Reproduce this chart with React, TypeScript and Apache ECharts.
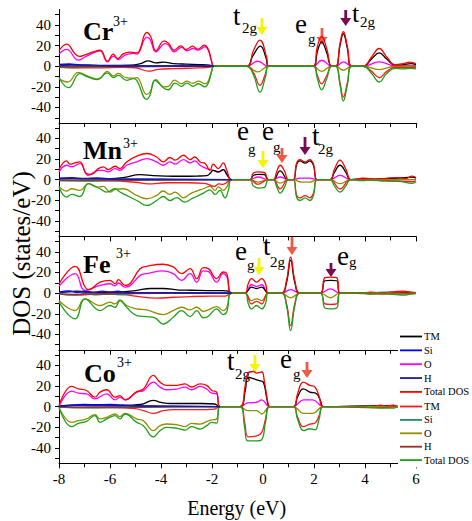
import React, { useEffect, useRef } from "react";
import * as echarts from "echarts";

type P = [number, number][];

const xTicks = { min: -8, max: 6, step: 2 };
const yTickValues = [-50, -40, -30, -20, -10, 0, 10, 20, 30, 40, 50];
const yLabelValues = [-40, -20, 0, 20, 40];
const seriesNames = ["TM", "Si", "O", "H", "Total DOS"];

// ---------- Cr3+ ----------
const crTotUp: P = [[-8,15],[-7.7,21.4],[-7.37,12],[-7.2,9.5],[-6.98,11],[-6.59,14.5],[-6.39,15.5],[-6.1,4.9],[-5.87,11.7],[-5.7,7.4],[-5.48,12],[-5.22,13.6],[-4.95,12.9],[-4.56,32.7],[-4.4,28.5],[-4.2,15],[-3.88,24.6],[-3.7,22],[-3.49,15.5],[-3.22,19.7],[-3.02,16.2],[-2.76,19.4],[-2.56,16.5],[-2.3,20.4],[-2.14,16],[-2.01,4.5],[-1.93,0],[-0.64,0],[-0.38,15],[-0.12,25.4],[0.14,9],[0.22,0],[1.97,0],[2.13,18.9],[2.3,29],[2.5,17],[2.69,0],[2.86,0],[3.02,22],[3.15,33.5],[3.31,19],[3.48,0],[3.93,0],[4.26,9],[4.56,17.2],[4.85,9],[5.18,1.5],[5.5,2.5],[5.76,4],[6,2.5]];
const crTmUp: P = [[-8,1],[-7.6,1.5],[-7,1],[-6,0.8],[-5.2,1],[-4.8,2.5],[-4.5,5.2],[-4.2,3.3],[-3.9,3.9],[-3.5,2.6],[-3,2],[-2.5,1.6],[-2.1,1],[-1.93,0],[-0.64,0],[-0.4,10],[-0.1,19.5],[0.12,8],[0.22,0],[1.97,0],[2.13,14],[2.3,23.7],[2.5,13],[2.69,0],[2.86,0],[3.02,20],[3.15,31.5],[3.31,17],[3.48,0],[3.93,0],[4.26,7],[4.56,13],[4.85,7],[5.18,1],[5.5,1.5],[5.8,2.5],[6,1.5]];
const crOUp: P = [[-8,11.7],[-7.7,16.3],[-7.24,5.9],[-6.92,9.8],[-6.39,15],[-6.1,4.2],[-5.87,9.8],[-5.67,6.5],[-5.41,10.7],[-5.08,12.4],[-4.95,11.7],[-4.56,28],[-4.43,26],[-4.2,14],[-3.84,22],[-3.71,20.5],[-3.49,14],[-3.19,18.2],[-2.99,15],[-2.73,17.2],[-2.54,15.6],[-2.27,18.9],[-2.14,15],[-2.01,4],[-1.93,0],[-0.64,0],[-0.2,4.8],[0.21,0],[1.97,0],[2.3,5.8],[2.69,0],[2.86,0],[3.15,4.2],[3.48,0],[3.93,0],[4.56,4.2],[5.18,0.5],[6,0.5]];
const crSiUp: P = [[-8,1.8],[-7.6,2.3],[-7.2,1.3],[-6.8,1],[-6.2,0.6],[-5,0.4],[-3,0.3],[-1.93,0]];
const crHUp: P = [[-8,0.7],[-7.5,1],[-6.5,0.5],[-4,0.3],[-1.93,0]];
const crTotDn: P = [[-8,-11],[-7.63,-20.8],[-7.18,-7.2],[-6.92,-9.8],[-6.52,-13],[-6.1,-6.5],[-5.87,-11],[-5.67,-8.8],[-5.35,-13.7],[-5.08,-12],[-4.95,-13.7],[-4.56,-32.2],[-4.43,-28],[-4.24,-13.7],[-3.91,-20.8],[-3.71,-22.8],[-3.45,-16.3],[-3.19,-19.5],[-2.99,-16.3],[-2.73,-19.5],[-2.54,-17],[-2.27,-20],[-2.14,-16],[-2.01,-5],[-1.93,0],[-0.64,0],[-0.38,-8],[-0.12,-25],[0.1,-10],[0.22,0],[1.97,0],[2.13,-12],[2.3,-22.8],[2.5,-12],[2.69,0],[2.86,0],[3.02,-18],[3.15,-33.8],[3.31,-18],[3.48,0],[3.93,0],[4.26,-7],[4.56,-15.3],[4.85,-7],[5.18,-2],[5.5,-2.5],[5.8,-2],[6,-2.5]];
const crTmDn: P = [[-8,-0.6],[-7.5,-1.5],[-6.5,-1.6],[-5.5,-1.2],[-5,-1.5],[-4.5,-4.8],[-4.1,-3],[-3.5,-2.3],[-2.5,-1.6],[-2.1,-1],[-1.93,0],[-0.64,0],[-0.38,-6],[-0.12,-18.5],[0.1,-7],[0.22,0],[1.97,0],[2.13,-9],[2.3,-17],[2.5,-9],[2.69,0],[2.86,0],[3.02,-16],[3.15,-30],[3.31,-16],[3.48,0],[3.93,0],[4.26,-5],[4.56,-11],[4.85,-5],[5.18,-1],[5.6,-1.5],[6,-1]];
const crODn: P = [[-8,-12],[-7.66,-15.3],[-7.24,-6],[-6.92,-9],[-6.46,-12.5],[-6.1,-5],[-5.87,-9.5],[-5.67,-7],[-5.38,-11],[-5.08,-11.5],[-4.95,-11],[-4.56,-27.3],[-4.43,-25],[-4.2,-13],[-3.88,-20],[-3.71,-19.5],[-3.47,-13.5],[-3.19,-17],[-2.99,-14.5],[-2.75,-16.5],[-2.54,-14.5],[-2.27,-17],[-2.14,-14],[-2.01,-4],[-1.93,0],[-0.64,0],[-0.2,-5.5],[0.21,0],[1.97,0],[2.3,-4.9],[2.69,0],[2.86,0],[3.15,-3.9],[3.48,0],[3.93,0],[4.56,-3.3],[5.18,0],[6,0]];
const crSiDn: P = [[-8,-1],[-7.5,-1.4],[-6.8,-0.8],[-5,-0.4],[-1.93,0]];
const crHDn: P = [[-8,-0.5],[-6,-0.4],[-1.93,0]];

// ---------- Mn3+ ----------
const mnTotUp: P = [[-8,9.8],[-7.7,18.2],[-7.57,15],[-7.37,16.3],[-7.18,17.2],[-6.92,5.9],[-6.72,5.2],[-6.46,10.7],[-6.26,12.4],[-6.07,9.8],[-5.8,13],[-5.61,10.7],[-5.35,17.2],[-4.95,22.8],[-4.56,25.4],[-4.17,22],[-3.91,17.2],[-3.65,21.5],[-3.45,18.9],[-3.12,23.7],[-2.86,19.5],[-2.67,22],[-2.47,17.2],[-2.27,15.6],[-2.08,9.1],[-1.95,15],[-1.75,10.7],[-1.56,16.3],[-1.42,9.1],[-1.23,0],[-0.51,0],[-0.38,6.5],[-0.18,7.5],[0.05,7],[0.21,0],[0.41,0],[0.54,8],[0.67,14],[0.85,8],[0.99,0],[1.19,0],[1.32,16],[1.45,19.5],[1.65,17.2],[1.84,19.5],[1.98,15],[2.13,0],[2.63,0],[2.8,10],[3.02,18.9],[3.25,10],[3.44,0],[3.6,0],[3.9,1.5],[4.2,1],[4.5,0.5],[4.9,1.5],[5.3,2],[5.6,1],[5.85,3.5],[6,2]];
const mnTmUp: P = [[-8,1],[-7.5,1.2],[-7,0.8],[-6,1],[-5.5,2],[-4.8,4.9],[-4.3,4],[-3.8,3.5],[-3.2,3.3],[-2.6,3.5],[-2.2,4],[-2.08,5.9],[-1.95,9.1],[-1.75,7.5],[-1.56,9.8],[-1.42,5],[-1.23,0],[-0.51,0],[-0.38,4],[-0.18,5.2],[0.05,5],[0.21,0],[0.41,0],[0.67,8.5],[0.99,0],[1.19,0],[1.32,15],[1.45,18.2],[1.65,16],[1.84,18.2],[1.98,14],[2.13,0],[2.63,0],[2.8,7],[3.02,14],[3.25,7],[3.44,0],[3.9,1],[4.2,0.5],[4.8,1],[5.3,1.5],[5.85,2.5],[6,1.5]];
const mnOUp: P = [[-8,7.5],[-7.7,14],[-7.5,12.4],[-7.18,15.6],[-6.85,4.2],[-6.46,9.1],[-6.26,9.1],[-6.07,7.5],[-5.8,10.7],[-5.61,9.1],[-5.35,14],[-4.95,17.2],[-4.56,20.5],[-4.17,17.2],[-3.91,14],[-3.65,17.2],[-3.45,15],[-3.12,19.5],[-2.86,16.3],[-2.67,18.2],[-2.47,14],[-2.21,10.7],[-1.95,9.1],[-1.75,7.5],[-1.56,9.8],[-1.42,5.9],[-1.23,0],[-0.51,0],[-0.2,2.6],[0.21,0],[0.41,0],[0.67,2.6],[0.99,0],[1.19,0],[1.45,1.5],[1.84,1.5],[2.13,0],[2.63,0],[3.02,4.2],[3.44,0],[6,0]];
const mnSiUp: P = [[-8,1.5],[-7.5,2],[-7,1.2],[-6.5,1.6],[-6,1],[-5.5,0.6],[-4,0.4],[-1.23,0]];
const mnHUp: P = [[-8,0.8],[-7,1],[-6,0.6],[-4,0.3],[-1.23,0]];
const mnTotDn: P = [[-8,-7.2],[-7.7,-16.9],[-7.5,-14.3],[-7.18,-16.3],[-6.85,-3.9],[-6.59,-6.5],[-6.39,-8.8],[-6.13,-12],[-5.8,-8.8],[-5.61,-12],[-5.35,-15.3],[-4.95,-20.2],[-4.56,-25],[-4.17,-20.2],[-3.91,-16.3],[-3.65,-20.2],[-3.39,-17.5],[-3.06,-21.8],[-2.8,-18.5],[-2.6,-16.3],[-2.34,-13],[-2.08,-9.8],[-1.88,-14.3],[-1.69,-10.4],[-1.49,-17.6],[-1.36,-10.4],[-1.23,0],[-0.51,0],[-0.38,-6],[-0.18,-8.1],[0.05,-7.5],[0.21,0],[0.41,0],[0.54,-7],[0.67,-13],[0.85,-7],[0.99,0],[1.19,0],[1.32,-17],[1.45,-20.2],[1.65,-17.6],[1.84,-20.2],[1.98,-15],[2.13,0],[2.63,0],[2.8,-6],[3.02,-12],[3.25,-6],[3.44,0],[3.9,-1],[4.2,-0.5],[4.8,-1.5],[5.3,-1.5],[5.85,-3.5],[6,-2]];
const mnTmDn: P = [[-8,-1],[-7,-1],[-6,-1.2],[-5,-2.5],[-4.5,-4],[-3.8,-3],[-3,-3],[-2.3,-3.5],[-1.9,-6.5],[-1.75,-4],[-1.56,-4.5],[-1.23,0],[-0.51,0],[-0.2,-4.5],[0.21,0],[0.41,0],[0.67,-8.8],[0.99,0],[1.19,0],[1.32,-15],[1.45,-17.6],[1.65,-15.5],[1.84,-17.6],[1.98,-13],[2.13,0],[2.63,0],[3.02,-8.8],[3.44,0],[4.5,-0.5],[5.85,-2],[6,-1]];
const mnODn: P = [[-8,-6.5],[-7.7,-11],[-7.5,-8.8],[-7.18,-10.4],[-6.85,-3.9],[-6.46,-7.2],[-6.26,-6.5],[-6,-12],[-5.8,-9.5],[-5.48,-8.8],[-4.95,-15.3],[-4.56,-18.5],[-4.17,-15.3],[-3.91,-11],[-3.65,-14.3],[-3.45,-12],[-3.12,-17.6],[-2.86,-13.7],[-2.6,-11],[-2.34,-8.8],[-2.08,-6.5],[-1.88,-10.4],[-1.75,-7],[-1.56,-10.4],[-1.42,-7],[-1.23,0],[-0.51,0],[-0.2,-2.3],[0.21,0],[0.41,0],[0.67,-3.3],[0.99,0],[1.19,0],[1.5,-2.3],[1.84,-2.3],[2.13,0],[2.63,0],[3.02,-3.9],[3.44,0],[6,0]];
const mnSiDn: P = [[-8,-1],[-7,-1.3],[-6,-0.8],[-4,-0.4],[-1.23,0]];
const mnHDn: P = [[-8,-0.5],[-6,-0.5],[-1.23,0]];

// ---------- Fe3+ ----------
const feTotUp: P = [[-8,9.1],[-7.37,26],[-6.98,5.9],[-6.85,3.3],[-6.39,10.7],[-6,12.4],[-5.8,9.1],[-5.67,13],[-5.41,7.5],[-5.22,9.1],[-4.82,23.7],[-4.56,26],[-3.91,28],[-3.52,25.4],[-3.19,18.9],[-2.86,23.7],[-2.6,14],[-2.34,24.7],[-2.14,23.7],[-1.82,14],[-1.56,20.5],[-1.42,18.9],[-1.23,0],[-0.71,0],[-0.58,9],[-0.45,14],[-0.25,10.7],[-0.05,14],[0.1,9],[0.21,0],[0.73,0],[0.92,12],[1.085,35],[1.25,12],[1.45,0],[2.24,0],[2.43,15],[2.65,15.6],[2.89,15],[3.02,0],[3.9,0],[4.2,1],[4.5,0.5],[4.8,0.3],[5.2,1.5],[5.5,2],[5.8,1],[6,0.5]];
const feTmUp: P = [[-8,0.5],[-7.3,2],[-6.5,0.5],[-5.8,0.8],[-5,2.5],[-4.4,4.5],[-3.9,4.5],[-3.3,3],[-2.8,2.8],[-2.2,2.5],[-1.6,2.5],[-1.35,2],[-1.23,0],[-0.71,0],[-0.45,5.9],[-0.25,4.5],[-0.05,5.9],[0.21,0],[0.73,0],[0.92,10],[1.085,31.9],[1.25,10],[1.45,0],[2.24,0],[2.43,12],[2.65,12.4],[2.89,12],[3.02,0],[4.2,0.5],[5.3,1],[6,0.5]];
const feOUp: P = [[-8,6.5],[-7.37,18.9],[-6.98,2.6],[-6.39,7.5],[-6,9.1],[-5.8,7],[-5.67,9.8],[-5.41,5.9],[-5.22,7],[-4.82,17.2],[-4.56,18.9],[-3.91,21.5],[-3.52,18.9],[-3.19,12.4],[-2.86,18.9],[-2.6,10.7],[-2.34,21.5],[-2.14,20.8],[-1.82,10.7],[-1.56,18.9],[-1.42,16],[-1.23,0],[-0.71,0],[-0.45,8.1],[-0.25,6.5],[-0.05,8.1],[0.21,0],[0.73,0],[1.085,3.3],[1.45,0],[2.24,0],[2.65,4.2],[3.02,0],[6,0]];
const feSiUp: P = [[-8,1],[-7.6,2.2],[-7.3,0.5],[-7,1.8],[-6.6,0.8],[-6.3,2],[-6,1],[-5.7,1.8],[-5.4,0.6],[-5,0.5],[-3,0.3],[-1.23,0]];
const feHUp: P = [[-8,0.5],[-7.4,1.5],[-6.8,0.6],[-6.2,1.2],[-5.5,0.5],[-3,0.2],[-1.23,0]];
const feTotDn: P = [[-8,-8.8],[-7.37,-25],[-6.98,-5.5],[-6.39,-16.9],[-6,-12],[-5.8,-13.7],[-5.61,-7.2],[-5.35,-13.7],[-4.95,-21.8],[-4.56,-22.8],[-4.24,-24],[-3.91,-30],[-3.52,-23.4],[-3.19,-16.9],[-2.86,-22.8],[-2.6,-16.9],[-2.34,-24],[-2.14,-22.5],[-1.82,-15.3],[-1.56,-20.8],[-1.42,-18],[-1.23,0],[-0.71,0],[-0.58,-10],[-0.45,-15.3],[-0.25,-12],[-0.05,-15.3],[0.1,-10],[0.21,0],[0.73,0],[0.92,-12],[1.085,-36.4],[1.25,-12],[1.45,0],[2.24,0],[2.43,-14.5],[2.65,-15.3],[2.89,-14.5],[3.02,0],[3.9,0],[4.2,-1],[4.6,-0.5],[5.2,-1.5],[5.5,-2],[5.8,-1],[6,-0.5]];
const feTmDn: P = [[-8,-1],[-7.3,-2],[-6.5,-1],[-5.5,-1.5],[-5,-3],[-4.2,-4.9],[-3.5,-4],[-2.8,-3.3],[-2,-3],[-1.5,-3],[-1.23,0],[-0.71,0],[-0.45,-10.4],[-0.25,-8],[-0.05,-10.4],[0.21,0],[0.73,0],[0.92,-10],[1.085,-31.5],[1.25,-10],[1.45,0],[2.24,0],[2.43,-10.5],[2.65,-11],[2.89,-10.5],[3.02,0],[5.3,-1],[6,-0.3]];
const feODn: P = [[-8,-7.2],[-7.37,-16.9],[-6.98,-5.5],[-6.39,-12],[-6,-8.8],[-5.8,-10.4],[-5.61,-6.5],[-5.35,-12],[-4.95,-15.3],[-4.56,-16.3],[-3.91,-20.8],[-3.52,-16.9],[-3.19,-13.7],[-2.86,-16.3],[-2.6,-13.7],[-2.34,-17.6],[-2.14,-16.3],[-1.82,-13],[-1.56,-16.9],[-1.42,-14],[-1.23,0],[-0.71,0],[-0.45,-7.2],[-0.25,-5.5],[-0.05,-7.2],[0.21,0],[0.73,0],[1.085,-4.6],[1.45,0],[2.24,0],[2.65,-4.6],[3.02,0],[6,0]];
const feSiDn: P = [[-8,-0.8],[-7.4,-2],[-7,-0.6],[-6.5,-1.6],[-6,-0.8],[-5.6,-1.4],[-5,-0.4],[-1.23,0]];
const feHDn: P = [[-8,-0.4],[-7.4,-1.2],[-6.5,-0.6],[-5,-0.3],[-1.23,0]];

// ---------- Co3+ ----------
const coTotUp: P = [[-8,1],[-7.5,19.5],[-7.24,17.2],[-6.92,15.6],[-6.59,9.1],[-6.39,14],[-6.13,16.3],[-5.8,9.1],[-5.61,10.7],[-5.41,6.5],[-4.95,14.5],[-4.69,17],[-4.3,30.2],[-4.04,23.7],[-3.78,20.5],[-3.39,20.5],[-3.06,22],[-2.8,19],[-2.47,22],[-2.21,20.5],[-2.01,15.6],[-1.82,14],[-1.69,0],[-0.9,0],[-0.7,20],[-0.6,31.9],[-0.38,34],[-0.25,32.5],[-0.05,33.5],[0.05,25],[0.2,3],[0.27,0],[1.19,0],[1.35,12],[1.58,23.7],[1.84,20.5],[2.04,18.9],[2.2,10],[2.37,0],[3.93,0],[4.15,1],[4.4,0.5],[4.6,1.5],[4.85,0.5],[5.1,1.5],[5.3,0],[6,0]];
const coTmUp: P = [[-8,0.5],[-7.5,1.5],[-6.5,1],[-5.5,1],[-4.8,2],[-4.3,6],[-4,4],[-3.6,3],[-3,3],[-2.4,3],[-1.9,2.5],[-1.69,0],[-0.9,0],[-0.7,15],[-0.58,28.6],[-0.38,27],[-0.18,25.4],[0.01,23.7],[0.15,8],[0.27,0],[1.19,0],[1.35,9],[1.58,17.2],[1.84,14],[2.1,12.4],[2.25,6],[2.37,0],[4.6,1],[5.1,1],[5.3,0]];
const coOUp: P = [[-8,0],[-7.5,15],[-7.24,13],[-6.92,12.4],[-6.59,7.5],[-6.13,12.4],[-5.8,6.5],[-5.61,9],[-5.41,6.5],[-4.95,14],[-4.69,15.5],[-4.3,23.7],[-4.04,18.9],[-3.78,16.3],[-3.39,17],[-3.06,18.9],[-2.8,16.3],[-2.47,19.5],[-2.21,17],[-2.01,13],[-1.82,12.4],[-1.69,0],[-0.9,0],[-0.6,3.5],[-0.25,4.2],[-0.05,6.5],[0.27,0],[1.19,0],[1.58,6.5],[1.95,6.5],[2.37,0],[6,0]];
const coSiUp: P = [[-8,0],[-7.5,1.5],[-7,2],[-6.5,1.8],[-6,2],[-5.5,1.6],[-5,0.8],[-4,0.5],[-1.69,0]];
const coHUp: P = [[-8,0],[-7.3,1],[-6.3,1],[-5.3,0.6],[-4,0.3],[-1.69,0]];
const coTotDn: P = [[-8,-0.6],[-7.5,-19.5],[-7.24,-16.3],[-6.92,-14.3],[-6.59,-8.8],[-6.39,-15.3],[-6.13,-12],[-5.8,-8.8],[-5.61,-12],[-5.41,-7.2],[-4.95,-15.3],[-4.69,-18.5],[-4.3,-29.3],[-4.04,-23.4],[-3.78,-20.2],[-3.39,-21],[-3.06,-22.8],[-2.8,-19.5],[-2.47,-21.8],[-2.21,-18.5],[-2.01,-15.3],[-1.82,-16],[-1.69,0],[-0.9,0],[-0.72,-20],[-0.6,-33.2],[-0.25,-33.2],[-0.05,-32],[0.1,-15],[0.27,0],[1.19,0],[1.35,-12],[1.6,-23.4],[1.84,-21.5],[2.04,-22.5],[2.2,-12],[2.37,0],[3.93,0],[4.2,-1],[4.6,-1.5],[5.1,-1.5],[5.3,0],[6,0]];
const coTmDn: P = [[-8,-0.5],[-7,-1],[-6,-1],[-5,-2],[-4.69,-4],[-4.3,-6.5],[-3.91,-4],[-3.5,-3],[-2.5,-3],[-1.9,-2.5],[-1.69,0],[-0.9,0],[-0.72,-15],[-0.58,-29.3],[-0.25,-28.5],[-0.05,-25],[0.1,-12],[0.27,0],[1.19,0],[1.35,-10],[1.58,-19.5],[1.84,-17],[2.04,-16],[2.2,-9],[2.37,0],[4.6,-1],[5.3,0]];
const coODn: P = [[-8,-0.6],[-7.5,-15.3],[-7.24,-13.7],[-6.92,-12],[-6.59,-7.8],[-6.39,-12],[-6.13,-10.4],[-5.8,-7.2],[-5.61,-9.8],[-5.41,-6.5],[-4.95,-12],[-4.69,-13.7],[-4.3,-23.4],[-4.04,-18.5],[-3.78,-16.9],[-3.39,-17.5],[-3.06,-19.5],[-2.8,-16.3],[-2.47,-17],[-2.21,-14.5],[-2.01,-13],[-1.82,-12],[-1.69,0],[-0.9,0],[-0.6,-3.9],[-0.25,-3.9],[-0.05,-7.2],[0.27,0],[1.19,0],[1.58,-6.5],[1.95,-6.5],[2.37,0],[6,0]];
const coSiDn: P = [[-8,0],[-7.5,-1],[-6.5,-1.2],[-5.5,-1],[-4,-0.5],[-1.69,0]];
const coHDn: P = [[-8,0],[-7,-0.6],[-5,-0.4],[-1.69,0]];

const panelData = [
  { up: [crTmUp, crSiUp, crOUp, crHUp, crTotUp], dn: [crTmDn, crSiDn, crODn, crHDn, crTotDn] },
  { up: [mnTmUp, mnSiUp, mnOUp, mnHUp, mnTotUp], dn: [mnTmDn, mnSiDn, mnODn, mnHDn, mnTotDn] },
  { up: [feTmUp, feSiUp, feOUp, feHUp, feTotUp], dn: [feTmDn, feSiDn, feODn, feHDn, feTotDn] },
  { up: [coTmUp, coSiUp, coOUp, coHUp, coTotUp], dn: [coTmDn, coSiDn, coODn, coHDn, coTotDn] },
];

const upColors = ["#000000", "#0000ff", "#ff00ff", "#1c1c9c", "#ff0000"];
const dnColors = ["#ff1a1a", "#1f9060", "#8f8f00", "#a02828", "#1ea01e"];
const drawOrder = [2, 0, 4];

const FONT = "Liberation Serif";
const GRID_LEFT = 59;
const GRID_WIDTH = 357;
const GRID_TOP = 9.5;
const GRID_H = 113.45;

function arrow(cx: number, y0: number, y1: number, color: string) {
  return {
    type: "group",
    children: [
      { type: "rect", shape: { x: cx - 1.4, y: y0, width: 2.8, height: y1 - y0 - 7 }, style: { fill: color } },
      { type: "polygon", shape: { points: [[cx - 5.5, y1 - 8], [cx + 5.5, y1 - 8], [cx, y1]] }, style: { fill: color } },
    ],
  };
}

function txt(x: number, y: number, text: string, size: number, bold = false) {
  return {
    type: "text",
    x,
    y,
    style: {
      text,
      fontFamily: FONT,
      fontSize: size,
      fontWeight: bold ? "bold" : "normal",
      lineHeight: Math.round(size * 0.6),
      fill: "#000",
      align: "left",
      verticalAlign: "middle",
    },
  };
}

const YEL = "#f5f500";
const ORG = "#f05a45";
const PUR = "#7a0a50";

export default function App() {
  const ref = useRef<HTMLDivElement>(null);
  useEffect(() => {
    if (!ref.current) return;
    const chart = echarts.init(ref.current, undefined, { renderer: "svg" });
    const grids: any[] = [];
    const xAxes: any[] = [];
    const yAxes: any[] = [];
    const series: any[] = [];
    for (let i = 0; i < 4; i++) {
      grids.push({ left: GRID_LEFT, top: GRID_TOP + i * GRID_H, width: GRID_WIDTH, height: GRID_H });
      xAxes.push({
        gridIndex: i,
        type: "value",
        min: xTicks.min,
        max: xTicks.max,
        interval: xTicks.step,
        axisLine: { show: true, onZero: false, lineStyle: { color: "#000", width: 1 } },
        axisTick: { show: true, length: 5, lineStyle: { color: "#000" } },
        minorTick: { show: true, splitNumber: 2, length: 4, lineStyle: { color: "#000" } },
        axisLabel: { show: i === 3, fontSize: 15, color: "#000", fontFamily: FONT, margin: 8 },
        splitLine: { show: false },
        minorSplitLine: { show: false },
      });
      yAxes.push({
        gridIndex: i,
        type: "value",
        min: -55,
        max: 55,
        axisLine: { show: true, onZero: false, lineStyle: { color: "#000", width: 1 } },
        axisTick: { show: true, length: 4, customValues: yTickValues, lineStyle: { color: "#000" } },
        axisLabel: { show: true, customValues: yLabelValues, fontSize: 15, color: "#000", fontFamily: FONT, margin: 8 },
        splitLine: { show: false },
      });
      const pd = panelData[i];
      const mk = (data: P, name: string, color: string) => ({
        type: "line",
        name,
        xAxisIndex: i,
        yAxisIndex: i,
        data,
        symbol: "none",
        showSymbol: false,
        smooth: 0.45,
        lineStyle: { color, width: 1.3 },
        itemStyle: { color },
        silent: true,
      });
      for (const k of drawOrder) series.push(mk(pd.up[k], seriesNames[k] + "|up", upColors[k]));
      for (const k of drawOrder) series.push(mk(pd.dn[k], seriesNames[k] + "|dn", dnColors[k]));
      for (const k of [1, 3]) series.push(mk(pd.dn[k], seriesNames[k] + "|dn", dnColors[k]));
      for (const k of [1, 3]) series.push(mk(pd.up[k], seriesNames[k] + "|up", upColors[k]));
    }

    const legendBase = {
      orient: "vertical",
      left: 398,
      icon: "rect",
      itemWidth: 22,
      itemHeight: 1.8,
      padding: 2,
      backgroundColor: "#fff",
      selectedMode: false,
      textStyle: { fontFamily: FONT, fontSize: 10.5, lineHeight: 10, color: "#000", padding: [0, 0, 0, -3] },
      formatter: (n: string) => n.split("|")[0],
    };

    const graphic: any[] = [
      // ion labels
      txt(83, 31.9, "Cr", 26, true), txt(113, 21.3, "3+", 14),
      txt(83, 150.2, "Mn", 26, true), txt(123, 143.6, "3+", 14),
      txt(83, 264.5, "Fe", 26, true), txt(116, 253.6, "3+", 14),
      txt(84, 373.9, "Co", 26, true), txt(117, 362, "3+", 14),
      // panel 1 annotations
      txt(233, 16.4, "t", 27), txt(242, 27.9, "2g", 15), arrow(262, 18, 35, YEL),
      txt(295, 24.2, "e", 27), txt(308, 38.5, "g", 15), arrow(322, 28, 45, ORG),
      arrow(345.7, 10, 26, PUR), txt(352, 13, "t", 26), txt(360, 22, "2g", 15),
      // panel 2
      txt(237, 130.9, "e", 27), txt(248, 148.5, "g", 15), arrow(263, 151, 168, YEL),
      txt(262, 130.9, "e", 27), txt(273, 147, "g", 15), arrow(282, 148, 163, ORG),
      arrow(305, 137, 155, PUR), txt(312, 135.9, "t", 27), txt(318, 149, "2g", 15),
      // panel 3
      txt(235, 250.9, "e", 27), txt(247, 265, "g", 15), arrow(259, 258, 275, YEL),
      txt(263, 245.9, "t", 27), txt(270, 262, "2g", 15), arrow(292, 236, 255, ORG),
      arrow(331, 263, 277, PUR), txt(337, 255.9, "e", 27), txt(349, 262, "g", 15),
      // panel 4
      txt(227, 360.9, "t", 27), txt(235, 374, "2g", 15), arrow(255, 355, 372, YEL),
      txt(280, 359, "e", 27), txt(293, 373.5, "g", 15), arrow(307, 362, 378, ORG),
      // axis titles
      {
        type: "text", x: 236.7, y: 508.3,
        style: { text: "Energy (eV)", fontFamily: FONT, fontSize: 20, fill: "#000", align: "center", verticalAlign: "middle" },
      },
      {
        type: "text", x: 21.6, y: 253.5, rotation: Math.PI / 2,
        style: { text: "DOS (states/eV)", fontFamily: FONT, fontSize: 25, fill: "#000", align: "center", verticalAlign: "middle" },
      },
    ];

    chart.setOption({
      animation: false,
      backgroundColor: "#fff",
      grid: grids,
      xAxis: xAxes,
      yAxis: yAxes,
      series,
      legend: [
        { ...legendBase, top: 329, itemGap: 2.85, data: seriesNames.map((n) => n + "|up") },
        { ...legendBase, top: 399, itemGap: 2.4, data: seriesNames.map((n) => n + "|dn") },
      ],
      graphic,
    });
    return () => chart.dispose();
  }, []);
  return <div ref={ref} style={{ width: 472, height: 521, position: "absolute", left: 0, top: 0 }} />;
}
